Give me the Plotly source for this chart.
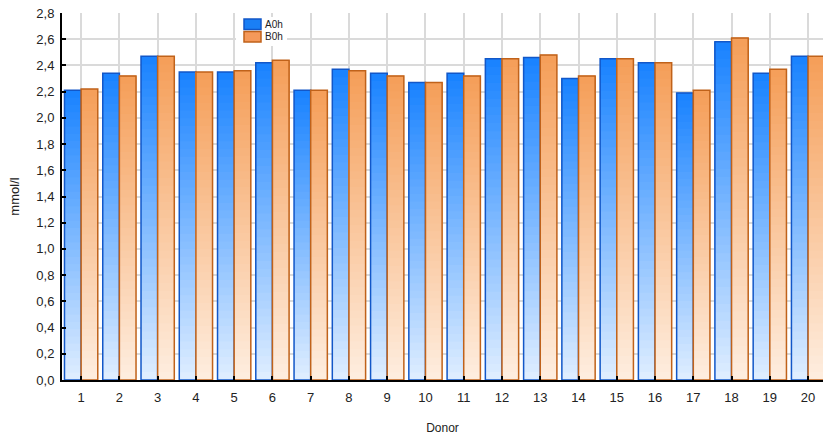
import plotly.graph_objects as go

donors = [str(i) for i in range(1, 21)]
a0h = [2.21, 2.34, 2.47, 2.35, 2.35, 2.42, 2.21, 2.37, 2.34, 2.27,
       2.34, 2.45, 2.46, 2.30, 2.45, 2.42, 2.19, 2.58, 2.34, 2.47]
b0h = [2.22, 2.32, 2.47, 2.35, 2.36, 2.44, 2.21, 2.36, 2.32, 2.27,
       2.32, 2.45, 2.48, 2.32, 2.45, 2.42, 2.21, 2.61, 2.37, 2.47]
series_names = ["A0h", "B0h"]

x = list(range(1, 21))
N = 40

def lerp(c1, c2, t):
    return "rgb(%d,%d,%d)" % tuple(round(c1[i] + (c2[i] - c1[i]) * t) for i in range(3))

styles = {
    "A0h": dict(top=(24, 130, 255), bottom=(224, 238, 255), line="#1257C8", legend="#1A7FF5"),
    "B0h": dict(top=(245, 158, 88), bottom=(254, 238, 224), line="#C0621A", legend="#F5995A"),
}

fig = go.Figure()
for name, vals in zip(series_names, [a0h, b0h]):
    st = styles[name]
    for k in range(N):
        t = (k + 0.5) / N
        fig.add_trace(go.Bar(
            x=x, y=[v * (N - k) / N for v in vals], base=[v * k / N for v in vals],
            offsetgroup=name, marker=dict(color=lerp(st["bottom"], st["top"], t), line=dict(width=0)),
            showlegend=False, hoverinfo="skip"))
    fig.add_trace(go.Bar(
        x=x, y=vals, base=[0] * len(vals), offsetgroup=name, name=name,
        marker=dict(color="rgba(0,0,0,0)", line=dict(color=st["line"], width=1.5)),
        showlegend=False))

W, H = 823, 442
L, T, B = 62, 13, 62
pw, ph = W - L, H - T - B

def px(xp):
    return (xp - L) / pw

def py(yp):
    return (H - B - yp) / ph

shapes = [dict(type="rect", xref="paper", yref="paper", x0=px(236), x1=px(287), y0=py(46), y1=py(17),
               fillcolor="white", line=dict(width=0), layer="above")]
annotations = []
for i, name in enumerate(series_names):
    st = styles[name]
    y0, y1 = 19 + i * 12.5, 29.5 + i * 12.5
    shapes.append(dict(type="rect", xref="paper", yref="paper", x0=px(244), x1=px(261),
                       y0=py(y1), y1=py(y0), fillcolor=st["legend"],
                       line=dict(color=st["line"], width=1.5), layer="above"))
    annotations.append(dict(text=name, xref="paper", yref="paper", x=px(263), y=py((y0 + y1) / 2),
                            xanchor="left", yanchor="middle", showarrow=False,
                            font=dict(size=10, color="#222")))

fig.update_layout(
    width=W, height=H,
    margin=dict(l=L, r=0, t=T, b=B),
    barmode="group", bargap=0.13, bargroupgap=0.0,
    plot_bgcolor="white", paper_bgcolor="white",
    separators=", ",
    showlegend=False,
    shapes=shapes, annotations=annotations,
    font=dict(family="Liberation Sans, Arial, sans-serif", size=13, color="#222"),
    xaxis=dict(
        range=[0.5, 20.39], tickmode="array", tickvals=x, ticktext=donors,
        showgrid=True, gridcolor="#DADADA", gridwidth=2,
        showline=True, linecolor="black", linewidth=2,
        ticks="inside", ticklen=4, tickcolor="black", tickwidth=2,
        ticklabelstandoff=4, ticklabeloverflow="allow",
        title=dict(text="Donor", standoff=20, font=dict(size=12)),
        zeroline=False, automargin=False),
    yaxis=dict(
        range=[0, 2.8], dtick=0.2, tickformat=".1f",
        showgrid=True, gridcolor="#DADADA", gridwidth=2,
        showline=True, linecolor="black", linewidth=2,
        ticks="inside", ticklen=4, tickcolor="black", tickwidth=2,
        ticklabelstandoff=3, ticklabeloverflow="allow",
        title=dict(text="mmol/l", standoff=14, font=dict(size=13)),
        zeroline=False, automargin=False),
)

fig.write_html("out.html", config={"displayModeBar": False},
               post_script="document.body.style.margin='0px';")
